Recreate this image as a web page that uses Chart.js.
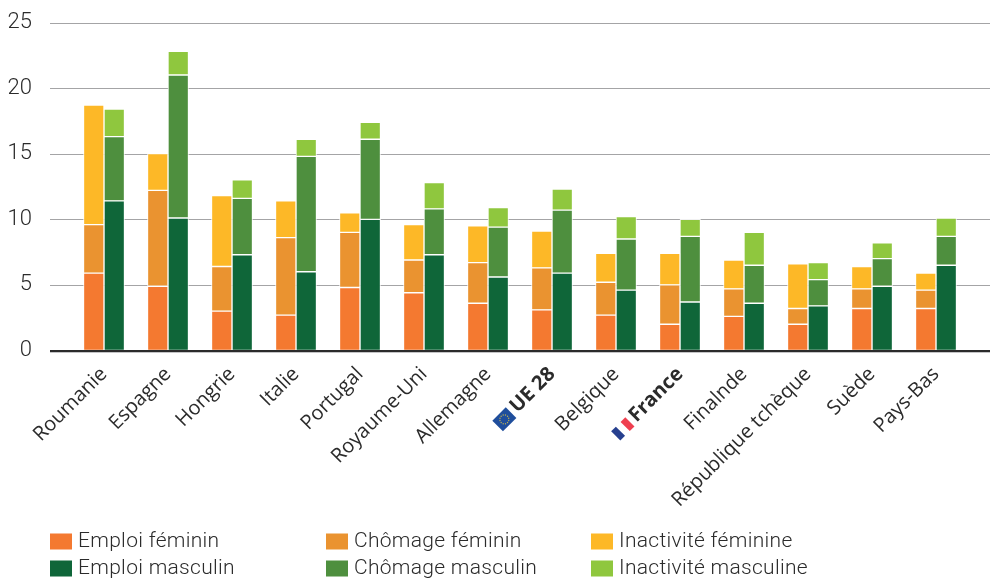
<!DOCTYPE html>
<html lang="fr">
<head>
<meta charset="utf-8">
<style>html,body{margin:0;padding:0;background:#fff}#wrap{width:990px;height:580px;position:relative}</style>
<script src="https://cdn.jsdelivr.net/npm/chart.js@4"></script>
</head>
<body>
<div id="wrap"><canvas id="c" width="990" height="580"></canvas></div>
<script>
const categories = ["Roumanie","Espagne","Hongrie","Italie","Portugal","Royaume-Uni","Allemagne","UE 28","Belgique","France","Finalnde","République tchèque","Suède","Pays-Bas"];
const emploiFeminin      = [5.9,4.9,3.0,2.7,4.8,4.4,3.6,3.1,2.7,2.0,2.6,2.0,3.2,3.2];
const chomageFeminin     = [3.7,7.3,3.4,5.9,4.2,2.5,3.1,3.2,2.5,3.0,2.1,1.2,1.5,1.4];
const inactiviteFeminine = [9.1,2.8,5.4,2.8,1.5,2.7,2.8,2.8,2.2,2.4,2.2,3.4,1.7,1.3];
const emploiMasculin     = [11.4,10.1,7.3,6.0,10.0,7.3,5.6,5.9,4.6,3.7,3.6,3.4,4.9,6.5];
const chomageMasculin    = [4.9,10.9,4.3,8.8,6.1,3.5,3.8,4.8,3.9,5.0,2.9,2.0,2.1,2.2];
const inactiviteMasculine= [2.1,1.8,1.4,1.3,1.3,2.0,1.5,1.6,1.7,1.3,2.5,1.3,1.2,1.4];
const yTicks = [0,5,10,15,20,25];
const boldCategories = ["UE 28","France"];

const colors = {ef:"#f47930",cf:"#ea9330",if:"#fdb827",em:"#0f6639",cm:"#4e8f3e",im:"#8fc73e"};
const TICK_FONT = "'Open Sans'";
const LEGEND_FONT = "Roboto";
const TICK_SIZE = 20;

const mk = (label,data,color,stack)=>({label,data,stack,backgroundColor:color,borderColor:"rgba(255,255,255,0.85)",borderWidth:1,borderSkipped:false,barThickness:20.5});

const gridPlugin = {
  id:"fullGrid",
  beforeDatasetsDraw(chart){
    const {ctx,scales:{y}} = chart;
    ctx.save();
    y.ticks.forEach(t=>{
      const py = Math.round(y.getPixelForValue(t.value))+0.5;
      ctx.beginPath();ctx.moveTo(50,py);ctx.lineTo(990,py);
      ctx.strokeStyle = "#a4a4a6";ctx.lineWidth = 1;
      if(t.value!==0) ctx.stroke();
    });
    ctx.restore();
  },
  afterDatasetsDraw(chart){
    const {ctx,scales:{y}} = chart;
    const py = Math.round(y.getPixelForValue(0));
    ctx.save();
    ctx.fillStyle="#c4c4c6";ctx.fillRect(50,py+1,940,1);
    ctx.fillStyle="#2b2b2b";ctx.fillRect(50,py-1,940,2);
    ctx.restore();
  }
};

const flagPlugin = {
  id:"flags",
  afterDraw(chart){
    const {ctx,scales:{x}} = chart;
    const place = (name,draw)=>{
      const i = categories.indexOf(name);
      const item = x._labelItems && x._labelItems[i];
      if(!item) return;
      ctx.save();
      ctx.font = "bold "+TICK_SIZE+"px "+TICK_FONT;
      const w = ctx.measureText(name).width;
      ctx.translate(item.options.translation[0],item.options.translation[1]);
      ctx.rotate(item.options.rotation);
      draw(-w-4, (item.options.textOffset||0)+12.5);
      ctx.restore();
    };
    place("UE 28",(e,o)=>{
      const fw=19,fh=15,l=e-fw,t=o-fh/2;
      ctx.fillStyle="#1f4e9c";ctx.fillRect(l,t,fw,fh);
      ctx.fillStyle="#b9ad55";
      for(let k=0;k<12;k++){const a=k*Math.PI/6;ctx.beginPath();ctx.arc(l+fw/2+Math.cos(a)*4.5,t+fh/2+Math.sin(a)*4.5,0.7,0,7);ctx.fill();}
    });
    place("France",(e,o)=>{
      const fw=20,fh=13,l=e-fw,t=o-fh/2;
      ctx.fillStyle="#27408f";ctx.fillRect(l,t,fw/3,fh);
      ctx.fillStyle="#ef4050";ctx.fillRect(l+2*fw/3,t,fw/3,fh);
    });
  }
};

const legendPlugin = {
  id:"legendGrid",
  afterDraw(chart){
    const {ctx} = chart;
    const cols=[50,326,591], rows=[541.5,568.5];
    const order=[[0,0],[1,0],[2,0],[0,1],[1,1],[2,1]];
    ctx.save();
    ctx.textBaseline="middle";ctx.textAlign="left";
    ctx.font="300 21px "+LEGEND_FONT;
    if("letterSpacing" in ctx) ctx.letterSpacing="0.3px";
    chart.data.datasets.forEach((d,i)=>{
      const [c,r]=order[i];
      ctx.fillStyle=d.backgroundColor;
      ctx.fillRect(cols[c],rows[r]-8,22,16);
      ctx.fillStyle="#2b2b2b";
      ctx.fillText(d.label,cols[c]+28,rows[r]+0.5);
    });
    ctx.restore();
  }
};

new Chart(document.getElementById("c"),{
  type:"bar",
  data:{
    labels:categories,
    datasets:[
      mk("Emploi féminin",emploiFeminin,colors.ef,"f"),
      mk("Chômage féminin",chomageFeminin,colors.cf,"f"),
      mk("Inactivité féminine",inactiviteFeminine,colors.if,"f"),
      mk("Emploi masculin",emploiMasculin,colors.em,"m"),
      mk("Chômage masculin",chomageMasculin,colors.cm,"m"),
      mk("Inactivité masculine",inactiviteMasculine,colors.im,"m")
    ]
  },
  options:{
    responsive:false,animation:false,
    layout:{padding:{top:22.5,right:22,left:0,bottom:0}},
    plugins:{legend:{display:false},tooltip:{enabled:false}},
    scales:{
      x:{
        stacked:true,
        grid:{display:false},border:{display:false},
        afterFit(s){s.height=229.5;s.paddingLeft=0;s.paddingRight=0;},
        ticks:{
          autoSkip:false,maxRotation:45,minRotation:45,padding:4,color:"#2b2b2b",
          font:(c)=>({family:TICK_FONT,size:TICK_SIZE,weight:boldCategories.includes(categories[c.index])?"bold":"normal"})
        }
      },
      y:{
        stacked:true,min:0,max:25,
        grid:{display:false},border:{display:false},
        afterFit(s){s.width=72;s.paddingTop=0;s.paddingBottom=0;},
        afterBuildTicks(s){s.ticks=yTicks.map(value=>({value}));},
        ticks:{padding:32,color:"#2b2b2b",font:{family:"Roboto",weight:"300",size:22}}
      }
    }
  },
  plugins:[gridPlugin,flagPlugin,legendPlugin]
});
</script>
</body>
</html>
